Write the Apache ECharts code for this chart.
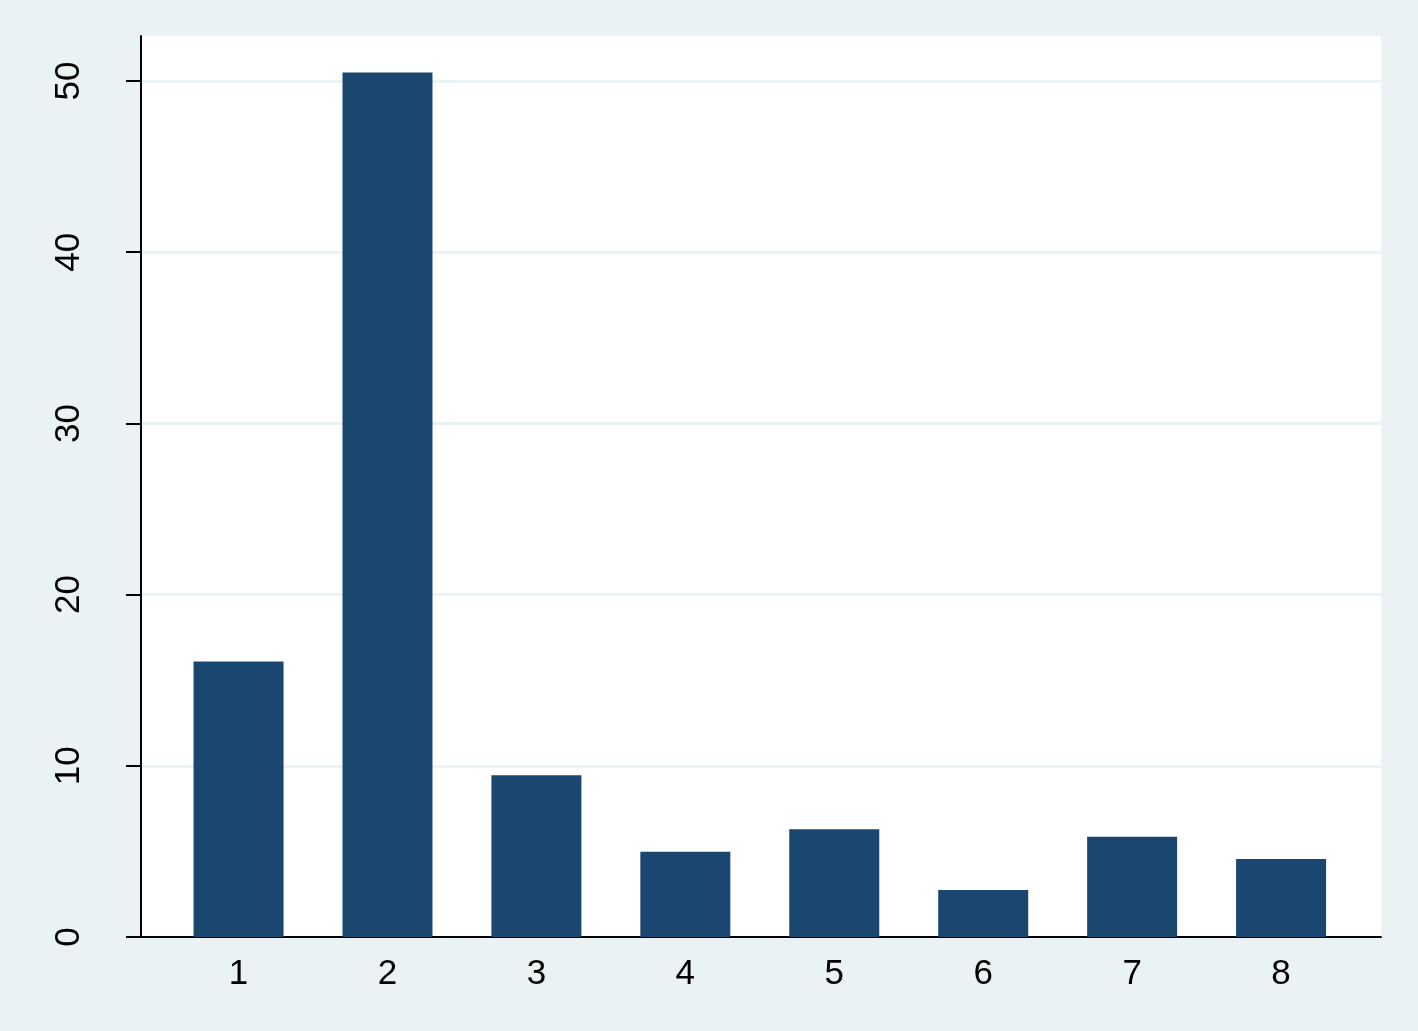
<!DOCTYPE html>
<html>
<head>
<meta charset="utf-8">
<script src="https://cdn.jsdelivr.net/npm/echarts@6/dist/echarts.min.js"></script>
<style>
html,body{margin:0;padding:0;background:#EAF2F3;}
#chart{width:1418px;height:1031px;}
</style>
</head>
<body>
<div id="chart"></div>
<script>
var categories = [1, 2, 3, 4, 5, 6, 7, 8];
var values = [16.1, 50.5, 9.45, 4.98, 6.3, 2.75, 5.85, 4.55];
var yTicks = [0, 10, 20, 30, 40, 50];

var chart = echarts.init(document.getElementById('chart'), null, {renderer: 'canvas'});
var data = categories.map(function (c, i) { return [c, values[i]]; });
chart.setOption({
  backgroundColor: '#EAF2F3',
  animation: false,
  grid: {
    left: 141, right: 37, top: 36, bottom: 94,
    show: true, backgroundColor: '#FFFFFF', borderWidth: 0
  },
  xAxis: {
    type: 'value',
    min: 0.345, max: 8.671,
    axisLine: {show: true, onZero: false, lineStyle: {color: '#000', width: 2}},
    axisTick: {show: false},
    splitLine: {show: false},
    axisLabel: {
      customValues: categories,
      color: '#000', fontSize: 35, fontFamily: 'Liberation Sans, Arial, sans-serif',
      margin: 20
    }
  },
  yAxis: {
    type: 'value',
    min: 0, max: 52.63, interval: 10,
    axisLine: {show: true, lineStyle: {color: '#000', width: 2}},
    axisTick: {show: true, customValues: yTicks, length: 15, lineStyle: {color: '#000', width: 2}},
    splitLine: {show: true, lineStyle: {color: '#EAF2F3', width: 3}},
    axisLabel: {
      customValues: yTicks,
      rotate: 90,
      color: '#000', fontSize: 35, fontFamily: 'Liberation Sans, Arial, sans-serif',
      margin: 54
    }
  },
  series: [
    {
      type: 'bar',
      data: data,
      barWidth: 90,
      itemStyle: {color: '#1A476F'},
      z: 3
    }
  ]
});
</script>
</body>
</html>
